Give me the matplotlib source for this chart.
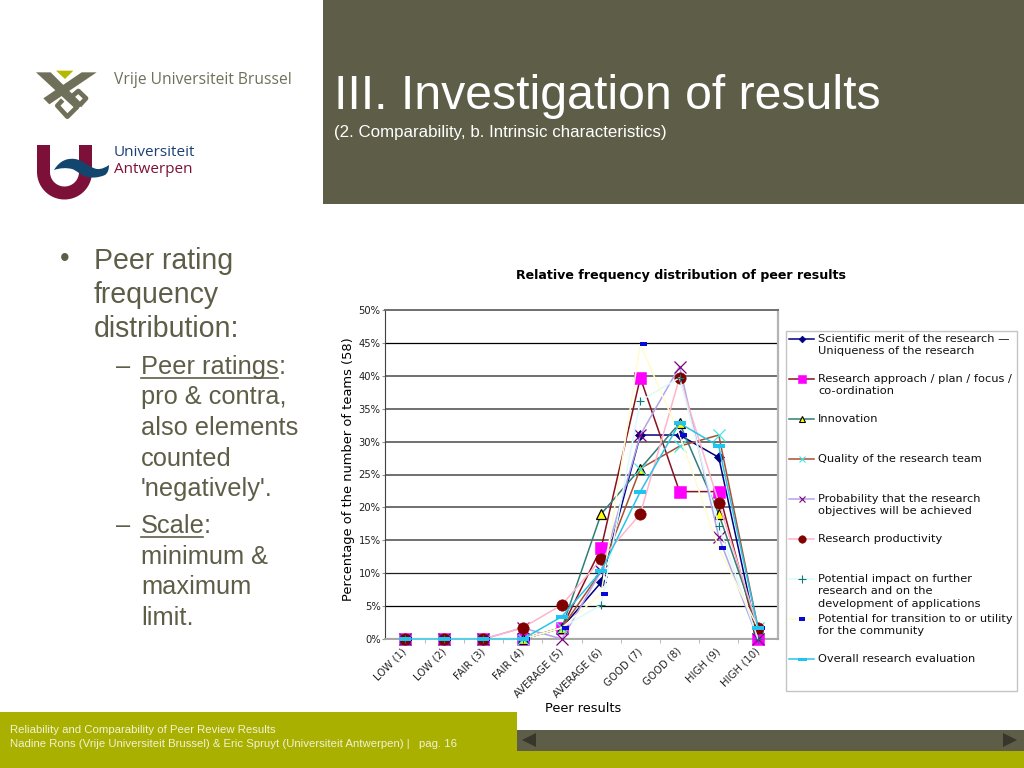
import numpy as np
import matplotlib
matplotlib.use("Agg")
import matplotlib.pyplot as plt
from matplotlib.patches import Rectangle, Polygon, PathPatch
from matplotlib.path import Path
from matplotlib.lines import Line2D
from matplotlib.transforms import ScaledTranslation

W, H = 1024, 768
SANS = "Liberation Sans"
CHART = "DejaVu Sans"

categories = ["LOW (1)", "LOW (2)", "FAIR (3)", "FAIR (4)", "AVERAGE (5)",
              "AVERAGE (6)", "GOOD (7)", "GOOD (8)", "HIGH (9)", "HIGH (10)"]
scientific_merit = [0, 0, 0, 0, 1.7, 8.6, 31.0, 31.0, 27.6, 0]
research_approach = [0, 0, 0, 0, 1.7, 13.8, 39.7, 22.4, 22.4, 0]
innovation = [0, 0, 0, 0, 1.7, 19.0, 25.9, 32.8, 19.0, 1.7]
research_team = [0, 0, 0, 0, 1.7, 10.3, 25.9, 29.3, 31.0, 1.7]
probability = [0, 0, 0, 1.7, 0, 10.3, 31.0, 41.4, 15.5, 0]
productivity = [0, 0, 0, 1.7, 5.2, 12.1, 19.0, 39.7, 20.7, 1.7]
impact = [0, 0, 0, 0, 1.7, 5.2, 36.2, 39.7, 17.2, 0]
transition = [0, 0, 0, 0, 1.7, 6.9, 44.8, 31.0, 13.8, 1.7]
overall = [0, 0, 0, 0, 3.4, 10.3, 22.4, 32.8, 29.3, 1.7]
y_ticks = [0, 5, 10, 15, 20, 25, 30, 35, 40, 45, 50]
grid_colors = ["#b0b0b0", "#000000", "#202020", "#707070", "#707070", "#707070",
               "#707070", "#707070", "#707070", "#000000", "#707070"]
grid_widths = [1.6, 0.9, 0.9, 1.4, 1.4, 1.4, 1.4, 1.4, 1.4, 0.9, 1.4]


def rect_marker(width, height, dx=0.0):
    x0, x1 = dx - width / 2, dx + width / 2
    h = height / 2
    verts = [(x0, -h), (x1, -h), (x1, h), (x0, h), (x0, -h)]
    return Path(verts, closed=True), 2 * max(abs(x0), abs(x1), h) * 0.72


dash_small, dash_small_ms = rect_marker(7, 3.2, 3)
dash_wide, dash_wide_ms = rect_marker(12, 3.6)
dash_small_leg, dash_small_leg_ms = rect_marker(6, 3.2)
dash_wide_leg, dash_wide_leg_ms = rect_marker(9, 3)

series = [
    dict(y=scientific_merit, lines=["Scientific merit of the research \u2014", "Uniqueness of the research"],
         lc="#000080", m="D", ms=5.6, mfc="#000080", mec="#000080", mew=0.5, lms=3.4),
    dict(y=research_approach, lines=["Research approach / plan / focus /", "co-ordination"],
         lc="#8a1020", m="s", ms=8.2, mfc="#ff00ff", mec="#ff00ff", mew=0.4, lms=5.6),
    dict(y=innovation, lines=["Innovation"],
         lc="#2f7f78", m="^", ms=7.6, mfc="#ffff00", mec="#000000", mew=0.9, lms=5),
    dict(y=research_team, lines=["Quality of the research team"],
         lc="#a85030", m="x", ms=8.4, mfc="#40e8e8", mec="#40e8e8", mew=0.9, lms=5),
    dict(y=probability, lines=["Probability that the research", "objectives will be achieved"],
         lc="#b0a4ec", m="x", ms=8.4, mfc="#800080", mec="#800080", mew=0.9, lms=5),
    dict(y=productivity, lines=["Research productivity"],
         lc="#ffb4c8", m="o", ms=8.2, mfc="#800000", mec="#800000", mew=0.4, lms=5.4),
    dict(y=impact, lines=["Potential impact on further", "research and on the", "development of applications"],
         lc="#dcfafa", m="+", ms=6.2, mfc="#107878", mec="#107878", mew=0.8, lms=5.2),
    dict(y=transition, lines=["Potential for transition to or utility", "for the community"],
         lc="#fffcd0", m=dash_small, ms=dash_small_ms, mfc="#0808d8", mec="#0808d8", mew=0, lm=dash_small_leg, lms=dash_small_leg_ms),
    dict(y=overall, lines=["Overall research evaluation"],
         lc="#28c4e8", m=dash_wide, ms=dash_wide_ms, mfc="#20c4f0", mec="#20c4f0", mew=0, lm=dash_wide_leg, lms=dash_wide_leg_ms),
]

fig = plt.figure(figsize=(W / 100, H / 100), dpi=100, facecolor="white")
bg = fig.add_axes([0, 0, 1, 1], zorder=0)
bg.set_xlim(0, W)
bg.set_ylim(H, 0)
bg.axis("off")


def T(x, y, s, px, color="black", family=SANS, **kw):
    kw.setdefault("va", "center")
    return bg.text(x, y, s, fontsize=px * 0.72, color=color, family=family, **kw)


# page furniture
OLIVE = "#5e5e48"
GREEN = "#a9b000"
bg.add_patch(Rectangle((323, 0), 701, 203.5, fc=OLIVE, ec="none"))
bg.add_patch(Rectangle((0, 711.5), 517, 57, fc=GREEN, ec="none"))
bg.add_patch(Rectangle((517, 730), 507, 20.5, fc=OLIVE, ec="none"))
bg.add_patch(Rectangle((517, 750.5), 507, 18, fc=GREEN, ec="none"))
bg.add_patch(Polygon([(522, 740), (536, 733), (536, 747)], fc="#36362a", ec="none"))
bg.add_patch(Polygon([(1017, 740), (1003, 733), (1003, 747)], fc="#36362a", ec="none"))

T(334, 96.5, "III. Investigation of results", 48.2, "white")
T(334, 132.5, "(2. Comparability, b. Intrinsic characteristics)", 16.85, "white")
T(10, 730, "Reliability and Comparability of Peer Review Results", 11.38, "#f2f2d8")
T(10, 744, "Nadine Rons (Vrije Universiteit Brussel) & Eric Spruyt (Universiteit Antwerpen) |   pag. 16", 11.38, "#f2f2d8")


# VUB logo, traced in zoomed-crop coordinates
def vub(pts):
    return [(30 + px / 3, 65 + py / 3) for px, py in pts]


LOGO = "#70705a"
bg.add_patch(Polygon(vub([(78, 17), (130, 17), (105, 42)]), fc="#b5b800", ec="none"))
bg.add_patch(Polygon(vub([(18, 22), (62, 22), (158, 118), (140, 135)]), fc=LOGO, ec="none"))
bg.add_patch(Polygon(vub([(155, 22), (200, 22), (58, 118), (40, 100)]), fc=LOGO, ec="none"))
for pts in ([(142, 125), (112, 155), (82, 122), (98, 105)], [(125, 95), (145, 78), (168, 100), (148, 122)]):
    bg.plot(*zip(*vub(pts)), color=LOGO, lw=3.4, solid_joinstyle="round", solid_capstyle="butt")
T(114, 80, "Vrije Universiteit Brussel", 15.6, LOGO, family="Open Sans")

# UA logo
MAROON = "#7d1038"
theta = np.linspace(np.pi, 0, 50)
outer = np.c_[64.5 + 27.5 * np.cos(theta), 172 + 27.5 * np.sin(theta)]
inner = np.c_[64.5 + 14.5 * np.cos(theta), 172 + 14.5 * np.sin(theta)][::-1]
u_pts = np.vstack([[(37, 145)], outer, [(92, 145), (79, 145)], inner, [(50, 145)]])
bg.add_patch(Polygon(u_pts, fc=MAROON, ec="none"))
wave_pts = [(54, 170), (60, 160), (68, 158), (75, 159), (83, 160), (90, 168), (97, 169),
            (102, 169.5), (106, 167), (109, 165), (109, 169), (108, 173), (105, 175),
            (98, 178), (92, 178), (87, 177), (80, 175), (76, 170), (72, 169),
            (66, 167.5), (60, 168), (54, 170), (54, 170)]
wave_codes = [Path.MOVETO] + [Path.CURVE4] * 21 + [Path.CLOSEPOLY]
bg.add_patch(PathPatch(Path(wave_pts, wave_codes), fc="#12466e", ec="none"))
T(114, 152, "Universiteit", 15.2, "#1c3f73", family="Open Sans")
T(114, 169.5, "Antwerpen", 15.2, MAROON, family="Open Sans")

# bullets
BODY = OLIVE
T(60, 259, "\u2022", 27, BODY)
for y, s in zip([261, 295, 329], ["Peer rating", "frequency", "distribution:"]):
    T(94, y, s, 28.5, BODY)
T(116, 367, "\u2013", 25.4, BODY)
T(141, 367, "Peer ratings", 25.4, BODY)
T(279, 367, ":", 25.4, BODY)
bg.plot([141, 278], [378, 378], color=BODY, lw=1.2)
for y, s in zip([397, 428, 459, 489], ["pro & contra,", "also elements", "counted", "'negatively'."]):
    T(141, y, s, 25.4, BODY)
T(116, 526, "\u2013", 25.4, BODY)
T(141, 526, "Scale", 25.4, BODY)
T(204, 526, ":", 25.4, BODY)
bg.plot([141, 203], [537, 537], color=BODY, lw=1.2)
for y, s in zip([557, 587, 618], ["minimum &", "maximum", "limit."]):
    T(141, y, s, 25.4, BODY)

# chart
L, R, TOP, BOT = 385.4, 777.6, 310.0, 639.0
ax = fig.add_axes([L / W, 1 - BOT / H, (R - L) / W, (BOT - TOP) / H], zorder=2, facecolor="white")
x = np.arange(len(categories))
for s in series:
    ax.plot(x, s["y"], color=s["lc"], lw=1.1, marker=s["m"], ms=s["ms"], mfc=s["mfc"],
            mec=s["mec"], mew=s["mew"], clip_on=False, zorder=3, solid_joinstyle="miter")
ax.set_xlim(-0.5, len(categories) - 0.5)
ax.set_ylim(0, 50)
ax.set_yticks(y_ticks)
ax.set_yticklabels([f"{v}%" for v in y_ticks], fontsize=7.2, family=CHART, color="#202020")
ax.set_xticks(x)
ax.set_xticklabels(categories, rotation=45, ha="right", rotation_mode="anchor", fontsize=7.3, family=CHART, color="#202020")
ax.set_xticks(x[:-1] + 0.5, minor=True)
ax.tick_params(axis="x", which="major", length=0, pad=5)
ax.tick_params(axis="x", which="minor", length=3, color="#b0b0b0", direction="out")
ax.tick_params(axis="y", length=2, color="#909090", pad=1.5)
shift = ScaledTranslation(-3.5 / 100, 0, fig.dpi_scale_trans)
for lab in ax.get_xticklabels():
    lab.set_transform(lab.get_transform() + shift)
ax.yaxis.grid(True, zorder=1)
for g, c, w in zip(ax.get_ygridlines(), grid_colors, grid_widths):
    g.set_color(c)
    g.set_linewidth(w)
ax.set_axisbelow(True)
for side, c, w in [("left", "#404040", 0.8), ("bottom", "#a8a8a8", 1.4), ("top", "#707070", 1.4), ("right", "#b4b4b4", 1.6)]:
    ax.spines[side].set_color(c)
    ax.spines[side].set_linewidth(w)
ax.set_ylabel("Percentage of the number of teams (58)", fontsize=9.4, family=CHART, va="center")
ax.yaxis.set_label_coords((348.5 - L) / (R - L), (BOT - 469) / (BOT - TOP))
ax.set_xlabel("Peer results", fontsize=9.3, family=CHART, va="center")
ax.xaxis.set_label_coords(0.5 + 2 / (R - L), (BOT - 708.5) / (BOT - TOP))
T(680.5, 276, "Relative frequency distribution of peer results", 12.6, "black", family=CHART, ha="center", weight="bold")

# legend
bg.add_patch(Rectangle((785.5, 330.5), 231, 360, fc="white", ec="#c4c4c4", lw=1))
for i, s in enumerate(series):
    row = 339 + 40 * i
    bg.add_line(Line2D([789, 814], [row, row], color=s["lc"], lw=1.1, marker=None))
    bg.add_line(Line2D([801.5], [row], marker=s.get("lm", s["m"]), ms=s["lms"], mfc=s["mfc"], mec=s["mec"],
                       mew=min(s["mew"], 0.8), ls="none"))
    for j, line in enumerate(s["lines"]):
        T(818, row + 12.4 * j, line, 11.4, "#101010", family=CHART)

fig.savefig("out.png", dpi=100)
